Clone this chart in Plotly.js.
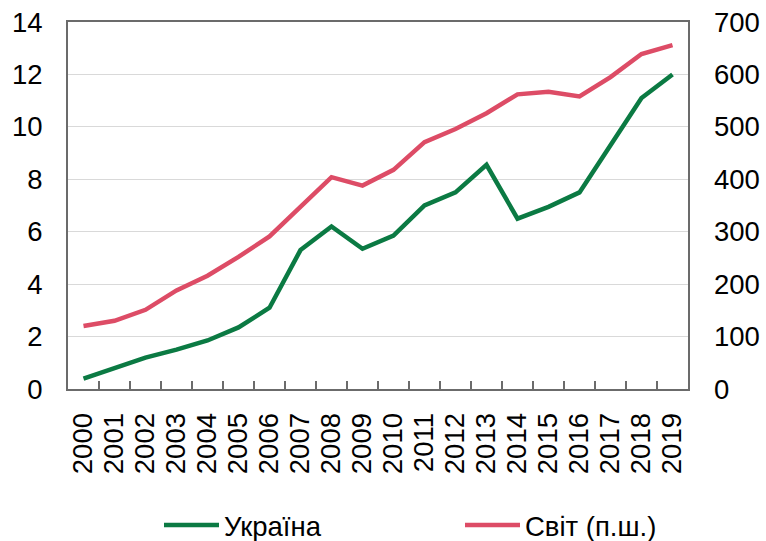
<!DOCTYPE html>
<html>
<head>
<meta charset="utf-8">
<script src="https://cdn.plot.ly/plotly-3.0.1.min.js"></script>
<style>html,body{margin:0;padding:0;background:#fff;}#chart{width:766px;height:541px;}</style>
</head>
<body>
<div id="chart"></div>
<script>
const years = ["2000","2001","2002","2003","2004","2005","2006","2007","2008","2009",
               "2010","2011","2012","2013","2014","2015","2016","2017","2018","2019"];
const ukraine = [0.4,0.8,1.2,1.5,1.85,2.35,3.1,5.3,6.2,5.35,5.85,7.0,7.5,8.55,6.5,6.95,7.5,9.3,11.1,12.0];
const world = [120,130,151,188,216,252,291,348,404,388,418,471,496,526,562,567,558,595,639,656];
const seriesNames = ["Україна","Світ (п.ш.)"];
const leftTicks = [0,2,4,6,8,10,12,14];
const rightTicks = [0,100,200,300,400,500,600,700];

const font = "Liberation Sans, Arial, sans-serif";
const axisColor = "#6b6b6b";
const tickSize = 27.5;

const traces = [
  {x: years, y: ukraine, name: seriesNames[0], type: "scatter", mode: "lines",
   line: {color: "#0b7a43", width: 4.5}, yaxis: "y", legend: "legend"},
  {x: years, y: world, name: seriesNames[1], type: "scatter", mode: "lines",
   line: {color: "#dd4c66", width: 4.5}, yaxis: "y2", legend: "legend2"}
];

const legendBase = {font: {family: font, size: 27.5, color: "#000"}, itemwidth: 55,
                    bgcolor: "rgba(0,0,0,0)", borderwidth: 0,
                    xref: "container", yref: "container", xanchor: "left", yanchor: "middle"};

const layout = {
  width: 766, height: 541,
  margin: {l: 68, r: 78, t: 22, b: 152, pad: 0, autoexpand: false},
  paper_bgcolor: "#fff", plot_bgcolor: "#fff",
  font: {family: font, size: tickSize, color: "#000"},
  showlegend: true,
  legend: Object.assign({}, legendBase, {x: 159/766, y: 1 - 525/541}),
  legend2: Object.assign({}, legendBase, {x: 460/766, y: 1 - 525/541}),
  xaxis: {type: "category", range: [-0.5, 19.5], tickangle: -90,
          tickmode: "array", tickvals: years, ticktext: years,
          showline: true, linecolor: axisColor, linewidth: 2, mirror: true,
          ticks: "inside", ticklen: 8, tickwidth: 1.5, tickcolor: axisColor, tickson: "boundaries",
          showgrid: false, zeroline: false, ticklabelstandoff: 11,
          tickfont: {family: font, size: tickSize, color: "#000"}},
  yaxis: {range: [0, 14], tickvals: leftTicks, showgrid: true, gridcolor: "#d9d9d9", gridwidth: 1.2,
          showline: true, linecolor: axisColor, linewidth: 2, mirror: true,
          ticks: "", zeroline: false, ticklabelstandoff: 18,
          tickfont: {family: font, size: tickSize, color: "#000"}},
  yaxis2: {range: [0, 700], tickvals: rightTicks, overlaying: "y", side: "right",
           showgrid: false, zeroline: false, showline: false, ticks: "", ticklabelstandoff: 25,
           tickfont: {family: font, size: tickSize, color: "#000"}}
};

Plotly.newPlot("chart", traces, layout, {displayModeBar: false, staticPlot: true});
</script>
</body>
</html>
